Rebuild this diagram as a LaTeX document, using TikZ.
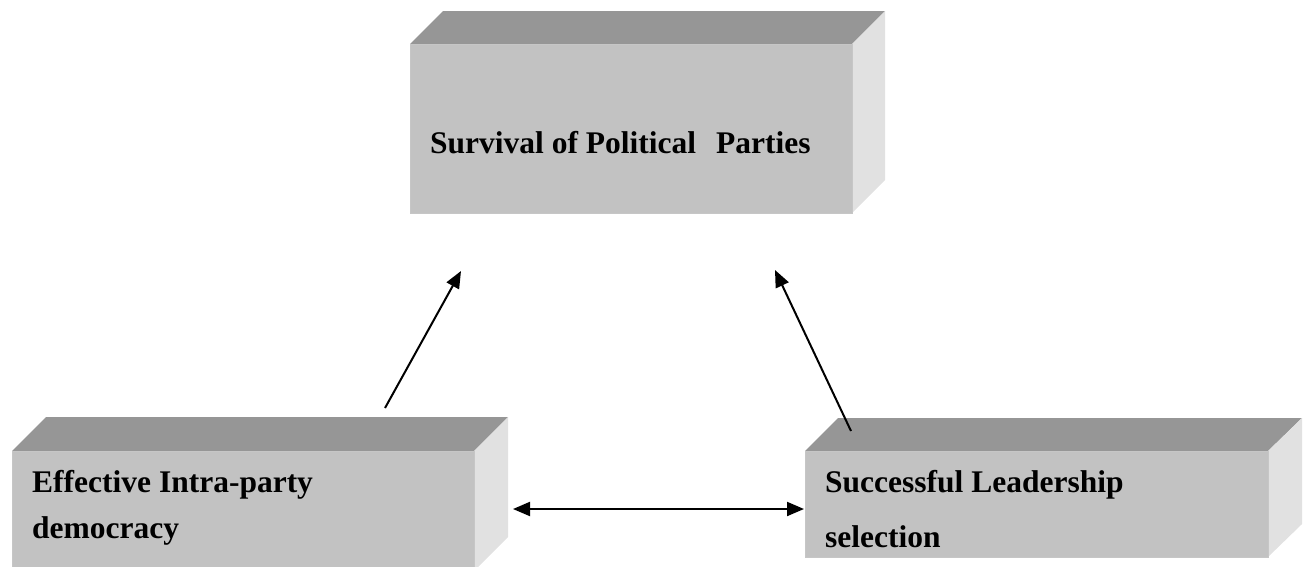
\documentclass[tikz,border=0pt]{standalone}
\usepackage{fontspec}
\setmainfont{Liberation Serif}
\usetikzlibrary{arrows.meta}
\definecolor{topc}{HTML}{969696}
\definecolor{frontc}{HTML}{C2C2C2}
\definecolor{sidec}{HTML}{E1E1E1}
\begin{document}
\begin{tikzpicture}[x=1pt,y=-1pt,
  lbl/.style={font=\fontsize{31.5}{38}\selectfont\bfseries, anchor=base west, inner sep=0pt},
  front/.style={fill=frontc, draw=gray!45, line width=0.8pt, anchor=north west, inner sep=0pt},
  topface/.style={fill=topc},
  sideface/.style={fill=sidec},
  conn/.style={line width=2pt, -{Triangle[length=17pt,width=14pt]}},
  dconn/.style={line width=2pt, {Triangle[length=17pt,width=14pt]}-{Triangle[length=17pt,width=14pt]}}]
\useasboundingbox (0,0) rectangle (1310,566);
\clip (0,0) rectangle (1310,566);

% top box
\fill[topface] (410,44) -- (443,11) -- (885,11) -- (852,44) -- cycle;
\fill[sideface] (852,44) -- (885,11) -- (885,180) -- (852,213) -- cycle;
\node[front, minimum width=442pt, minimum height=169pt] (topbox) at (410,44) {};
\node[lbl] (toptxt) at (430,153) {Survival of Political\hspace{12pt} Parties};

% left box
\fill[topface] (12,451) -- (46,417) -- (508,417) -- (474,451) -- cycle;
\fill[sideface] (474,451) -- (508,417) -- (508,537) -- (474,571) -- cycle;
\node[front, minimum width=462pt, minimum height=120pt] (leftbox) at (12,451) {};
\node[lbl] (lefttxt1) at (32,492) {Effective Intra-party};
\node[lbl] (lefttxt2) at (32,538) {democracy};

% right box
\fill[topface] (805,451) -- (838,418) -- (1302,418) -- (1268,451) -- cycle;
\fill[sideface] (1268,451) -- (1302,418) -- (1302,524) -- (1268,557) -- cycle;
\node[front, minimum width=463pt, minimum height=106pt] (rightbox) at (805,451) {};
\node[lbl] (righttxt1) at (825,492) {Successful Leadership};
\node[lbl] (righttxt2) at (825,547) {selection};

% connectors
\coordinate (a1s) at (385,408);
\coordinate (a1e) at (461,271);
\coordinate (a2s) at (851,431);
\coordinate (a2e) at (775,270);
\coordinate (hl) at (513,509);
\coordinate (hr) at (804,509);
\draw[conn] (a1s) -- (a1e);
\draw[conn] (a2s) -- (a2e);
\draw[dconn] (hl) -- (hr);
\end{tikzpicture}
\end{document}
